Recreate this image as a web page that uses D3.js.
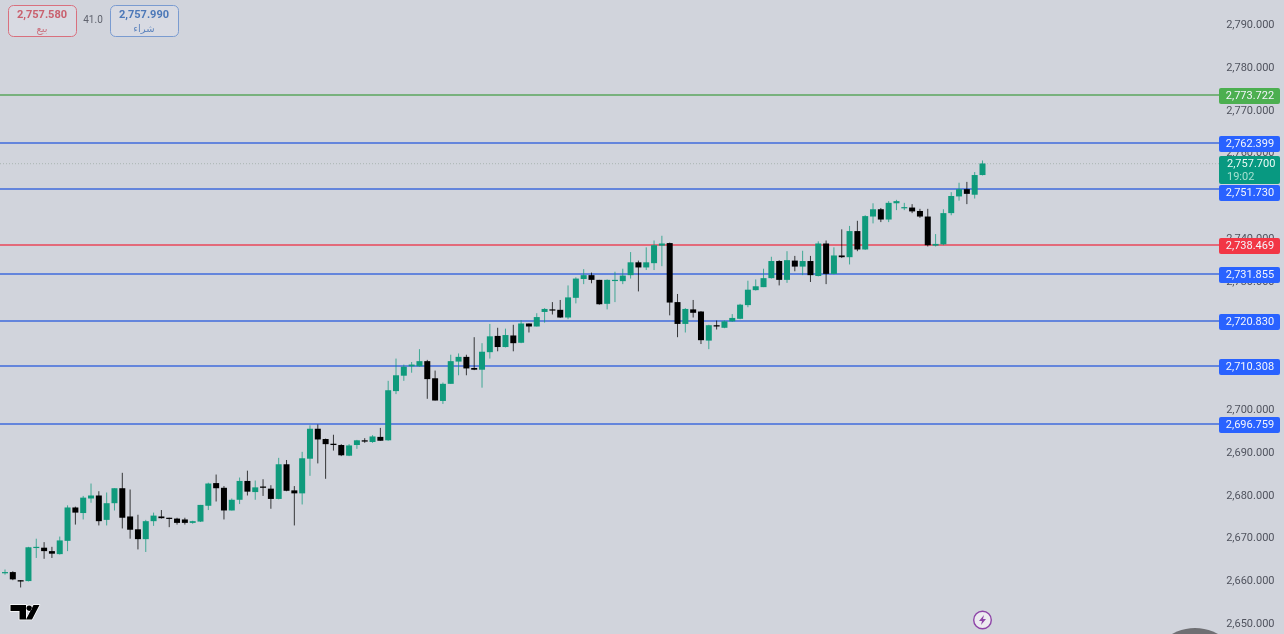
<!DOCTYPE html>
<html><head><meta charset="utf-8">
<style>html,body{margin:0;padding:0;background:#d1d4dc;overflow:hidden}svg{display:block;font-family:Roboto,"DejaVu Sans",sans-serif;filter:blur(.35px)}</style>
<script src="https://cdnjs.cloudflare.com/ajax/libs/d3/7.8.5/d3.min.js"></script>
</head><body><svg id="c" width="1284" height="634"></svg>
<script>
const opens=[2661.8,2661.9,2660.0,2659.8,2667.6,2667.6,2666.8,2666.1,2669.2,2677.0,2675.7,2679.1,2679.8,2674.1,2678.0,2681.5,2674.9,2671.9,2669.6,2673.8,2674.9,2674.6,2674.4,2674.2,2673.4,2673.7,
2677.4,2682.7,2681.6,2676.3,2678.8,2683.2,2680.6,2681.9,2681.4,2679.0,2687.1,2681.0,2680.3,2688.4,2695.4,2693.0,2691.9,2691.6,2689.1,2691.6,2692.7,2692.3,2693.5,2692.7,2704.2,
2707.8,2710.0,2710.0,2711.2,2707.2,2701.9,2705.9,2711.1,2712.2,2709.6,2709.2,2713.3,2717.1,2714.5,2717.2,2715.5,2720.0,2719.3,2722.7,2723.3,2723.2,2721.4,2726.0,2730.4,2731.3,2730.2,
2724.6,2730.1,2729.9,2731.3,2734.3,2733.1,2734.1,2738.2,2738.8,2725.0,2719.9,2723.3,2722.8,2716.0,2719.6,2719.0,2720.5,2721.1,2724.3,2727.8,2728.5,2730.6,2734.6,2730.2,2734.7,
2733.3,2734.6,2731.1,2738.7,2731.6,2735.9,2735.5,2741.6,2737.3,2745.0,2746.7,2744.3,2748.1,2747.0,2747.1,2746.3,2745.0,2738.2,2738.5,2745.8,2749.7,2751.4,2750.1,2754.7];
const highs=[2662.5,2662.1,2660.0,2667.8,2669.7,2668.9,2667.8,2670.2,2677.5,2677.2,2679.7,2682.6,2680.8,2680.5,2681.5,2685.1,2681.2,2675.3,2674.1,2675.8,2676.4,2674.6,2674.6,2674.6,2673.9,2677.6,
2682.8,2684.7,2682.0,2679.1,2684.0,2685.6,2683.3,2683.6,2682.2,2688.6,2688.1,2682.0,2690.0,2696.2,2696.4,2693.1,2694.0,2691.8,2691.8,2692.8,2693.2,2693.9,2695.6,2706.6,2711.8,
2710.4,2711.0,2714.0,2711.5,2709.0,2706.2,2712.7,2713.0,2712.7,2716.8,2715.4,2719.9,2719.0,2718.8,2719.7,2720.8,2720.0,2722.4,2723.6,2725.0,2725.5,2728.9,2730.8,2732.7,2731.9,2730.2,
2730.3,2732.1,2732.8,2736.7,2734.7,2737.8,2739.4,2740.5,2738.9,2726.9,2723.6,2725.5,2722.9,2719.7,2720.7,2720.7,2722.2,2724.6,2730.0,2730.3,2732.8,2735.6,2734.8,2736.9,2735.8,
2737.0,2735.8,2739.2,2739.4,2737.8,2742.0,2742.8,2744.0,2745.3,2748.1,2747.0,2748.6,2748.9,2748.2,2747.9,2746.8,2746.8,2740.9,2746.7,2750.7,2752.9,2753.1,2755.4,2758.1];
const lows=[2661.3,2660.0,2658.3,2659.7,2665.2,2665.0,2665.2,2666.0,2666.8,2673.0,2674.2,2678.1,2672.8,2672.8,2676.3,2672.1,2669.7,2667.2,2666.6,2672.7,2674.4,2672.4,2673.0,2673.0,2673.2,2673.6,
2676.4,2678.4,2674.2,2676.3,2677.8,2679.8,2678.8,2679.7,2676.7,2678.9,2680.8,2672.8,2677.7,2684.4,2687.3,2683.7,2690.3,2689.0,2689.0,2690.7,2692.1,2692.1,2692.6,2692.6,2703.5,
2706.6,2708.5,2709.9,2702.4,2702.0,2701.2,2705.9,2707.9,2707.9,2709.1,2705.0,2711.8,2713.5,2714.4,2713.5,2715.4,2717.9,2719.3,2720.2,2722.1,2721.3,2721.0,2724.7,2729.2,2729.4,2724.4,
2723.3,2725.0,2729.2,2730.5,2727.5,2732.5,2732.5,2733.4,2721.9,2716.8,2717.9,2721.4,2715.2,2714.0,2718.6,2718.9,2720.4,2721.0,2723.8,2727.7,2728.5,2730.5,2728.9,2729.5,2732.2,
2731.3,2729.7,2731.0,2729.2,2731.5,2735.3,2733.8,2736.9,2737.2,2743.4,2743.7,2743.7,2746.5,2746.5,2745.8,2744.7,2738.0,2738.0,2738.3,2745.3,2748.7,2747.9,2749.2,2754.6];
const closes=[2661.9,2660.2,2659.7,2667.7,2667.8,2666.8,2666.2,2669.3,2677.0,2675.8,2679.3,2679.8,2673.8,2678.0,2681.5,2674.6,2671.8,2669.6,2673.8,2675.1,2674.5,2674.4,2673.4,2673.4,2673.8,2677.6,
2682.6,2681.5,2676.3,2678.8,2683.2,2680.7,2681.7,2681.6,2679.0,2687.1,2680.9,2680.3,2688.5,2695.4,2692.9,2691.8,2691.6,2689.2,2691.5,2692.7,2692.4,2693.6,2692.6,2704.4,2707.9,
2709.9,2710.4,2711.2,2707.0,2702.0,2705.9,2711.2,2712.2,2709.5,2709.2,2713.4,2717.0,2714.5,2717.3,2715.4,2720.0,2719.3,2721.5,2723.4,2723.1,2721.4,2726.1,2730.5,2731.3,2730.2,2724.5,
2730.2,2730.2,2731.2,2734.3,2733.1,2734.3,2738.3,2738.7,2724.9,2719.9,2723.4,2722.5,2716.1,2719.6,2719.3,2720.5,2721.3,2724.4,2727.9,2728.7,2730.6,2734.6,2730.2,2734.8,2733.3,
2734.6,2731.3,2738.7,2731.6,2735.9,2735.5,2741.6,2737.3,2745.1,2746.7,2744.3,2748.2,2748.6,2747.2,2746.2,2745.0,2738.3,2738.6,2745.8,2749.8,2751.4,2750.3,2754.7,2757.4];
const tickValues=[2650,2660,2670,2680,2690,2700,2710,2720,2730,2740,2750,2760,2770,2780,2790];
const levelPrices=[2773.722,2762.399,2751.730,2738.469,2731.855,2720.830,2710.308,2696.759];
const levelKinds=["tp","mid","mid","sl","mid","mid","mid","mid"];
const lastPrice=2757.700, countdown="19:02";
const sellPrice=2757.580, buyPrice=2757.990, spread="41.0";

const lineColor={tp:"#5aa65e",mid:"#3f6bdc",sl:"#e8475a"};
const tagColor={tp:"#4caf50",mid:"#2962ff",sl:"#f23645"};
const UP="#0f9a7c",DOWN="#000000";
const svg=d3.select("#c");
const y=d3.scaleLinear().domain([2650,2790]).range([623,24]);
const x=d3.scaleLinear().domain([0,closes.length-1]).range([5,982.5]);
const fmt=d3.format(",.3f");
const lineY=d=>Math.round(y(d))+1;
const candles=closes.map((c,i)=>({i,o:opens[i],h:highs[i],l:lows[i],c}));

// price axis
const ax=svg.append("g").attr("transform","translate(1274.5,0)")
 .call(d3.axisLeft(y).tickValues(tickValues).tickFormat(fmt).tickSize(0).tickPadding(0));
ax.select(".domain").remove();
ax.selectAll("text").attr("fill","#50535e").attr("font-size",11).attr("font-family",'Roboto,"DejaVu Sans",sans-serif');

// last price dotted line
svg.append("line").attr("x1",0).attr("x2",1219).attr("y1",y(lastPrice)+1.5).attr("y2",y(lastPrice)+1.5)
 .attr("stroke","#a9b5b2").attr("stroke-width",1).attr("stroke-dasharray","1 2");

// level lines
svg.append("g").selectAll("line").data(levelPrices).join("line")
 .attr("x1",0).attr("x2",1219)
 .attr("y1",lineY).attr("y2",lineY)
 .attr("stroke",(d,i)=>lineColor[levelKinds[i]]).attr("stroke-width",1.6);

// candles
const g=svg.append("g").selectAll("g").data(candles).join("g")
 .attr("fill",d=>d.c>=d.o?UP:DOWN).attr("stroke",d=>d.c>=d.o?UP:DOWN);
g.append("line").attr("x1",d=>x(d.i)).attr("x2",d=>x(d.i)).attr("y1",d=>y(d.h)).attr("y2",d=>y(d.l))
 .attr("stroke-width",1).attr("stroke-opacity",.75);
g.append("rect").attr("x",d=>x(d.i)-3).attr("width",6).attr("stroke","none")
 .attr("y",d=>y(Math.max(d.o,d.c))).attr("height",d=>Math.max(1.2,Math.abs(y(d.o)-y(d.c))));

// tags (the 2,751.730 tag is pushed below the current-price tag, as in the reference)
const tagTop=d=>Math.max(lineY(d)-7, d<lastPrice&&lineY(d)-7<185&&lineY(d)>164?185:-1e9);
const tags=svg.append("g").selectAll("g").data(levelPrices).join("g")
 .attr("transform",d=>`translate(1219,${tagTop(d)})`);
tags.append("rect").attr("width",61).attr("height",16).attr("rx",2).attr("fill",(d,i)=>tagColor[levelKinds[i]]);
tags.append("text").attr("x",31).attr("y",11).attr("text-anchor","middle").attr("fill","#f3f5fb").attr("font-size",11).text(fmt);

// current price tag
const cur=svg.append("g").attr("transform","translate(1219,156)");
cur.append("rect").attr("width",61).attr("height",28).attr("rx",2).attr("fill","#089981");
cur.append("text").attr("x",8).attr("y",11).attr("fill","#eafaf5").attr("font-size",11).text(fmt(lastPrice));
cur.append("text").attr("x",8).attr("y",23.5).attr("fill","#a5e0d0").attr("font-size",11).text(countdown);

// sell / buy boxes
function box(bx,w,price,label,col,bcol){
 const b=svg.append("g").attr("transform",`translate(${bx},5)`);
 b.append("rect").attr("x",.5).attr("y",.5).attr("width",w).attr("height",31).attr("rx",5).attr("fill","#d8dae2").attr("stroke",bcol);
 b.append("text").attr("x",w/2).attr("y",13).attr("text-anchor","middle").attr("fill",col).attr("font-size",11).attr("font-weight",700).text(d3.format(",.3f")(price));
 b.append("text").attr("x",w/2).attr("y",27).attr("text-anchor","middle").attr("fill",col).attr("font-size",10).attr("opacity",.85).text(label);
}
box(8,68,sellPrice,"بيع","#c9606e","#d9707e");
box(110,68,buyPrice,"شراء","#4c78b8","#7a9bd0");
svg.append("text").attr("x",93).attr("y",23).attr("text-anchor","middle").attr("fill","#60636e").attr("font-size",10).text(spread);

// TradingView mark
svg.append("path").attr("d","M10.5 605H26V619.5H19.5V611H10.5Z M33.5 605H39.5L32 619.5H26Z M29.2 605.4a2.8 2.8 0 1 0 .01 0Z")
 .attr("fill","#000").attr("stroke","#fff").attr("stroke-width",1.6).attr("paint-order","stroke").attr("stroke-linejoin","round");

// lightning badge
const bolt=svg.append("g").attr("transform","translate(982.5,620)");
bolt.append("circle").attr("r",8.8).attr("fill","#eceaf0").attr("stroke","#8e44a8").attr("stroke-width",1.4);
bolt.append("path").attr("d","M1.5 -5L-3.5 1H-0.5L-1.5 5L3.5 -1H0.5Z").attr("fill","#8e44a8");

// corner overlay
svg.append("circle").attr("cx",1195).attr("cy",675).attr("r",47).attr("fill","#6f6f73");
</script></body></html>
